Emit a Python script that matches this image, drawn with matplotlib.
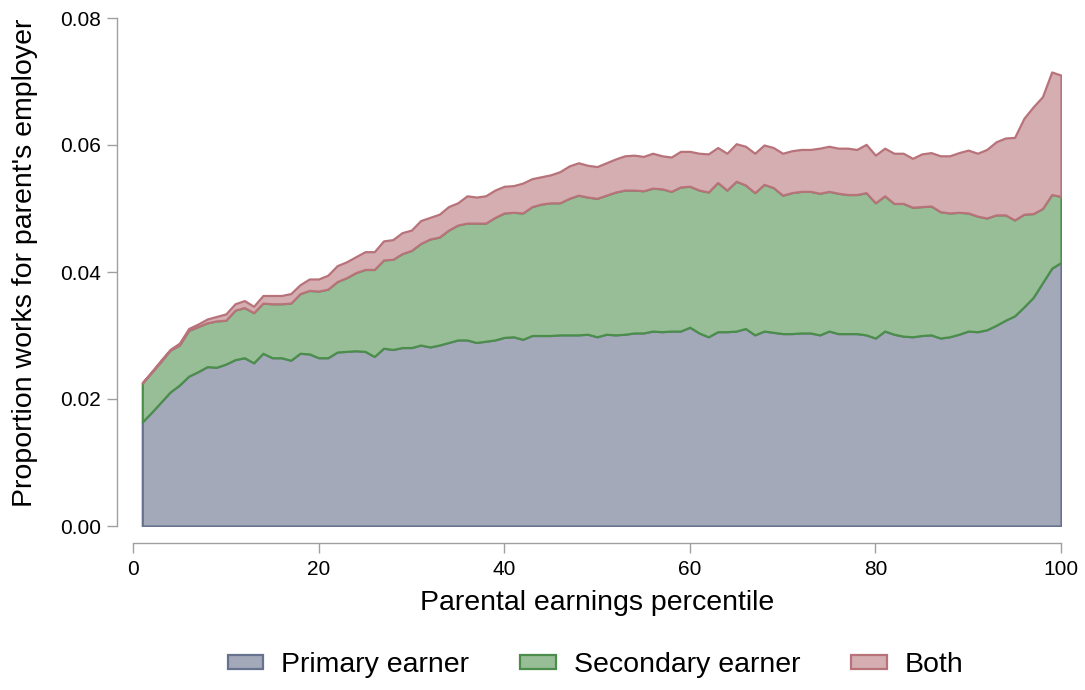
import numpy as np
import matplotlib
matplotlib.use("Agg")
import matplotlib.pyplot as plt
from matplotlib.ticker import FormatStrFormatter

plt.rcParams['font.family'] = ['Liberation Sans', 'DejaVu Sans']

percentile = list(range(1, 101))

# Upper edge of the "Primary earner" layer (= primary share)
primary = [
    0.0164, 0.0179, 0.0195, 0.0211, 0.0222, 0.0236, 0.0243, 0.0251, 0.0250, 0.0255,
    0.0262, 0.0265, 0.0257, 0.0272, 0.0265, 0.0265, 0.0261, 0.0272, 0.0271, 0.0265,
    0.0265, 0.0274, 0.0275, 0.0276, 0.0275, 0.0267, 0.0280, 0.0278, 0.0281, 0.0281,
    0.0285, 0.0282, 0.0285, 0.0289, 0.0293, 0.0293, 0.0289, 0.0291, 0.0293, 0.0297,
    0.0298, 0.0294, 0.0300, 0.0300, 0.0300, 0.0301, 0.0301, 0.0301, 0.0302, 0.0298,
    0.0302, 0.0301, 0.0302, 0.0304, 0.0304, 0.0307, 0.0306, 0.0307, 0.0307, 0.0313,
    0.0304, 0.0298, 0.0306, 0.0306, 0.0307, 0.0311, 0.0301, 0.0307, 0.0305, 0.0303,
    0.0303, 0.0304, 0.0304, 0.0301, 0.0307, 0.0303, 0.0303, 0.0303, 0.0301, 0.0296,
    0.0307, 0.0302, 0.0299, 0.0298, 0.0300, 0.0301, 0.0296, 0.0298, 0.0302, 0.0307,
    0.0306, 0.0309, 0.0316, 0.0324, 0.0331, 0.0345, 0.0360, 0.0383, 0.0406, 0.0415,
]

# Upper edge of the "Secondary earner" layer (primary + secondary)
primary_plus_secondary = [
    0.0225, 0.0242, 0.0259, 0.0277, 0.0285, 0.0308, 0.0314, 0.0320, 0.0323, 0.0324,
    0.0340, 0.0344, 0.0336, 0.0351, 0.0350, 0.0350, 0.0351, 0.0366, 0.0371, 0.0370,
    0.0373, 0.0385, 0.0391, 0.0399, 0.0404, 0.0404, 0.0419, 0.0420, 0.0429, 0.0434,
    0.0445, 0.0452, 0.0455, 0.0466, 0.0474, 0.0477, 0.0477, 0.0477, 0.0486, 0.0493,
    0.0494, 0.0493, 0.0503, 0.0507, 0.0509, 0.0509, 0.0516, 0.0521, 0.0518, 0.0516,
    0.0521, 0.0526, 0.0529, 0.0529, 0.0528, 0.0532, 0.0531, 0.0527, 0.0534, 0.0535,
    0.0529, 0.0526, 0.0541, 0.0529, 0.0543, 0.0537, 0.0525, 0.0538, 0.0533, 0.0521,
    0.0525, 0.0527, 0.0527, 0.0524, 0.0527, 0.0524, 0.0522, 0.0522, 0.0525, 0.0509,
    0.0520, 0.0508, 0.0508, 0.0502, 0.0503, 0.0504, 0.0495, 0.0493, 0.0494, 0.0493,
    0.0488, 0.0485, 0.0490, 0.0490, 0.0482, 0.0491, 0.0492, 0.0500, 0.0522, 0.0519,
]

# Upper edge of the "Both" layer (total)
total = [
    0.0226, 0.0243, 0.0261, 0.0278, 0.0288, 0.0311, 0.0318, 0.0326, 0.0330, 0.0334,
    0.0350, 0.0355, 0.0346, 0.0363, 0.0363, 0.0363, 0.0366, 0.0380, 0.0389, 0.0389,
    0.0395, 0.0410, 0.0416, 0.0424, 0.0432, 0.0432, 0.0449, 0.0451, 0.0462, 0.0466,
    0.0481, 0.0486, 0.0491, 0.0503, 0.0509, 0.0520, 0.0518, 0.0520, 0.0529, 0.0535,
    0.0536, 0.0540, 0.0547, 0.0550, 0.0553, 0.0558, 0.0567, 0.0572, 0.0568, 0.0566,
    0.0572, 0.0578, 0.0583, 0.0584, 0.0582, 0.0587, 0.0583, 0.0581, 0.0590, 0.0590,
    0.0587, 0.0586, 0.0596, 0.0587, 0.0602, 0.0598, 0.0587, 0.0600, 0.0596, 0.0587,
    0.0591, 0.0593, 0.0593, 0.0595, 0.0598, 0.0595, 0.0595, 0.0593, 0.0601, 0.0584,
    0.0595, 0.0587, 0.0587, 0.0579, 0.0586, 0.0588, 0.0583, 0.0583, 0.0588, 0.0592,
    0.0587, 0.0593, 0.0605, 0.0611, 0.0612, 0.0642, 0.0660, 0.0676, 0.0715, 0.0710,
]

labels = ["Primary earner", "Secondary earner", "Both"]
x_ticks = [0, 20, 40, 60, 80, 100]
y_ticks = [0.00, 0.02, 0.04, 0.06, 0.08]

p = np.array(primary)
ps = np.array(primary_plus_secondary)
t = np.array(total)
secondary = ps - p
both = t - ps

fills = ["#a4a9b9", "#98be97", "#d4aeb1"]
edges = ["#67728f", "#4b8e4b", "#b8737a"]

fig = plt.figure(figsize=(10.85, 6.9), dpi=100)
ax = fig.add_axes([133 / 1085, 1 - 526 / 690, (1061 - 133) / 1085, (526 - 18) / 690])

polys = ax.stackplot(percentile, p, secondary, both, labels=labels, colors=fills)
for poly, ec in zip(polys, edges):
    poly.set_edgecolor(ec)
    poly.set_linewidth(1.6)

ax.set_xlim(0, 100)
ax.set_ylim(0, 0.08)
ax.set_xticks(x_ticks)
ax.set_yticks(y_ticks)
ax.yaxis.set_major_formatter(FormatStrFormatter('%.2f'))

for s in ['top', 'right']:
    ax.spines[s].set_visible(False)
ax.spines['left'].set_position(('outward', 11.5))
ax.spines['bottom'].set_position(('outward', 12.2))
ax.spines['left'].set_bounds(0, 0.08)
ax.spines['bottom'].set_bounds(0, 100)
for s in ['left', 'bottom']:
    ax.spines[s].set_color('#a0a0a0')
    ax.spines[s].set_linewidth(1.0)
ax.tick_params(axis='both', colors='#a0a0a0', labelcolor='black', labelsize=15,
               length=7.5, width=1.0)
ax.tick_params(axis='y', pad=4)
ax.tick_params(axis='x', pad=5)

ax.set_xlabel("Parental earnings percentile", fontsize=20.5, labelpad=8)
ax.set_ylabel("Proportion works for parent's employer", fontsize=20.5)
ax.yaxis.set_label_coords((38 - 133) / 928, (526 - 263) / 508)

leg = fig.legend(*ax.get_legend_handles_labels(), loc='center',
                 bbox_to_anchor=((229 + 962) / 2 / 1085, 1 - 665 / 690),
                 ncol=3, frameon=False, fontsize=20.5, handlelength=1.26,
                 handleheight=0.4, handletextpad=0.62, columnspacing=1.79)

fig.savefig("out.png", dpi=100)
